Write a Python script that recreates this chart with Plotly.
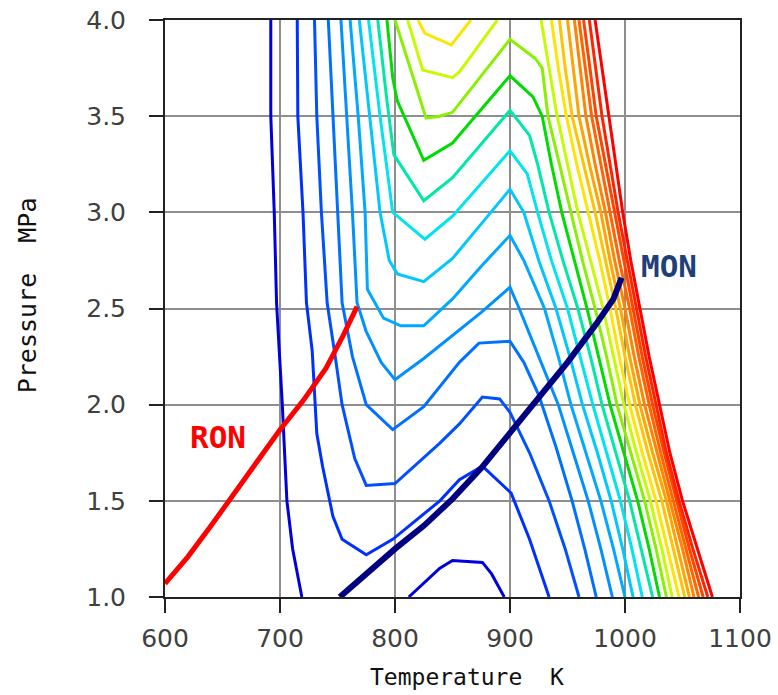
import plotly.graph_objects as go

# ---------------- data ----------------
x_ticks = [600, 700, 800, 900, 1000, 1100]
y_ticks = [1.0, 1.5, 2.0, 2.5, 3.0, 3.5, 4.0]

# shared pressure levels used for the right-hand (high temperature) branches
P_std = [4.0, 3.75, 3.5, 3.25, 3.0, 2.75, 2.5, 2.25, 2.0, 1.75, 1.5, 1.25, 1.0]

c01_T = [692, 692, 695, 697, 702, 706, 711, 719, None, 812, 839, 850, 876, 884, 895]
c01_P = [4.0, 3.5, 3.0, 2.53, 2.0, 1.5, 1.25, 1.0, None, 1.0, 1.15, 1.19, 1.18, 1.12, 1.0]

c02_T = [715, 715.5, 720, 723, 728, 732, 737, 746, 754, 775, 798, 839, 856, 876, 901, 917, 934]
c02_P = [4.0, 3.5, 3.0, 2.53, 2.28, 1.85, 1.68, 1.42, 1.30, 1.22, 1.30, 1.50, 1.61, 1.68, 1.54, 1.30, 1.0]

c03_T = [730, 732, 736, 741, 748, 754, 765, 775, 800, 839, 856, 876, 891, 900, 917, 934, 948, 960]
c03_P = [4.0, 3.5, 3.0, 2.53, 2.25, 2.0, 1.72, 1.58, 1.59, 1.80, 1.90, 2.04, 2.03, 1.96, 1.75, 1.5, 1.25, 1.0]

c04_T = [742, 746, 750, 754, 763, 775, 798, 825, 856, 873, 900, 912, 925, 940, 954, 965, 975]
c04_P = [4.0, 3.5, 3.0, 2.53, 2.25, 2.0, 1.87, 1.99, 2.22, 2.32, 2.33, 2.22, 2.05, 1.78, 1.5, 1.25, 1.0]

c05_T = [753, 758, 763, 767, 775, 788, 800, 825, 850, 875, 900, 908, 925, 942, 955, 968, 979, 989]
c05_P = [4.0, 3.5, 3.0, 2.53, 2.38, 2.22, 2.13, 2.24, 2.36, 2.48, 2.61, 2.5, 2.25, 2.0, 1.75, 1.5, 1.25, 1.0]

c06_T = [761, 768, 774, 776, 790, 805, 825, 850, 875, 900, 912, 930, 942, 953, 966, 979, 990, 1000]
c06_P = [4.0, 3.5, 3.0, 2.6, 2.45, 2.41, 2.41, 2.55, 2.72, 2.88, 2.75, 2.5, 2.25, 2.0, 1.75, 1.5, 1.25, 1.0]

c07_T = [769, 778, 787, 795, 802, 825, 850, 875, 900, 912, 925, 940, 952, 963, 976, 988, 998, 1007]
c07_P = [4.0, 3.5, 3.0, 2.75, 2.68, 2.64, 2.76, 2.94, 3.12, 3.0, 2.75, 2.5, 2.25, 2.0, 1.75, 1.5, 1.25, 1.0]

c08_T = [777, 787, 798, 826, 850, 900, 915, 924, 936, 950, 961, 972, 984, 996, 1006, 1015]
c08_P = [4.0, 3.5, 3.0, 2.86, 2.98, 3.32, 3.2, 3.0, 2.75, 2.5, 2.25, 2.0, 1.75, 1.5, 1.25, 1.0]

c09_T = [785, 793, 799, 825, 850, 900, 917, 924, 934, 946, 959, 970, 980, 992, 1004, 1014, 1024]
c09_P = [4.0, 3.58, 3.3, 3.06, 3.18, 3.53, 3.40, 3.25, 3.0, 2.75, 2.5, 2.25, 2.0, 1.75, 1.5, 1.25, 1.0]

c10_T = [793, 798, 802, 825, 850, 900, 920, 928, 936, 945, 956, 967, 977, 987, 999, 1011, 1021, 1030]
c10_P = [4.0, 3.70, 3.58, 3.27, 3.36, 3.71, 3.60, 3.5, 3.25, 3.0, 2.75, 2.5, 2.25, 2.0, 1.75, 1.5, 1.25, 1.0]

c11_T = [800, 827, 839, 850, 900, 922, 928, 933, 943, 953, 963, 974, 984, 993, 1005, 1017, 1027, 1036]
c11_P = [4.0, 3.49, 3.50, 3.52, 3.90, 3.80, 3.75, 3.5, 3.25, 3.0, 2.75, 2.5, 2.25, 2.0, 1.75, 1.5, 1.25, 1.0]

c12_T = [811, 824, 850, 856, 889, None, 927, 934, 941, 950, 959, 970, 981, 990, 999, 1010, 1022, 1032, 1041]
c12_P = [4.0, 3.74, 3.70, 3.73, 4.0, None] + P_std

c13_T = [820, 826, 849, 866, None, 936, 942, 949, 958, 968, 978, 987, 995, 1004, 1015, 1027, 1037, 1047]
c13_P = [4.0, 3.93, 3.87, 4.0, None] + P_std

c14_T = [943, 948, 954, 964, 974, 983, 992, 1000, 1009, 1020, 1032, 1042, 1052]
c15_T = [950, 955, 960, 969, 979, 987, 996, 1004, 1013, 1024, 1036, 1046, 1056]
c16_T = [956, 961, 966, 974, 983, 991, 1000, 1008, 1017, 1028, 1039, 1050, 1060]
c17_T = [960, 965.5, 971, 979, 987, 995, 1004, 1012, 1021, 1031, 1042, 1053, 1064]
c18_T = [964, 969.5, 975, 983, 991, 999, 1007, 1015, 1024, 1034, 1045, 1056, 1068]
c19_T = [969, 974.5, 980, 987, 994, 1002, 1010, 1018, 1027, 1036, 1047, 1059, 1072]
c20_T = [974, 980, 986, 992, 998, 1005, 1013, 1021, 1030, 1039, 1050, 1063, 1076]

contour_colors = ["#0000DD", "#0030FF", "#0050FF", "#0070FF", "#0090FF",
                  "#00A8FF", "#00C8FF", "#00E4F0", "#00E8A8", "#00DC00",
                  "#88F000", "#C8FA00", "#FFE400", "#FFC400", "#FFA400",
                  "#FF8400", "#FF6400", "#FF4400", "#FF2400", "#FF0000"]

ron_T = [600, 620, 640, 660, 680, 700, 720, 740, 755, 767]
ron_P = [1.07, 1.21, 1.37, 1.54, 1.70, 1.87, 2.02, 2.19, 2.36, 2.51]

mon_T = [752, 775, 800, 825, 850, 875, 900, 925, 950, 975, 990, 997]
mon_P = [1.0, 1.12, 1.25, 1.37, 1.51, 1.67, 1.85, 2.03, 2.22, 2.42, 2.55, 2.66]

# ---------------- figure ----------------
contours = [
    (c01_T, c01_P), (c02_T, c02_P), (c03_T, c03_P), (c04_T, c04_P),
    (c05_T, c05_P), (c06_T, c06_P), (c07_T, c07_P), (c08_T, c08_P),
    (c09_T, c09_P), (c10_T, c10_P), (c11_T, c11_P), (c12_T, c12_P),
    (c13_T, c13_P), (c14_T, P_std), (c15_T, P_std), (c16_T, P_std),
    (c17_T, P_std), (c18_T, P_std), (c19_T, P_std), (c20_T, P_std),
]

fig = go.Figure()
for (tx, py), col in zip(contours, contour_colors):
    fig.add_trace(go.Scatter(x=tx, y=py, mode="lines", connectgaps=False,
                             line=dict(color=col, width=3), hoverinfo="skip"))

fig.add_trace(go.Scatter(x=ron_T, y=ron_P, mode="lines",
                         line=dict(color="#FF0000", width=5), hoverinfo="skip"))
fig.add_trace(go.Scatter(x=mon_T, y=mon_P, mode="lines",
                         line=dict(color="#000080", width=6), hoverinfo="skip"))

tick_font = dict(family="DejaVu Sans", size=25, color="#404040")
mono = "DejaVu Sans Mono"

axis_common = dict(showgrid=True, gridcolor="#8E8E8E", gridwidth=1.5,
                   zeroline=False, showline=True, linecolor="#222222", linewidth=2,
                   mirror=True, ticks="outside", ticklen=14, tickwidth=1.5,
                   tickcolor="#222222", tickfont=tick_font, automargin=False)

fig.update_layout(
    width=778, height=695,
    margin=dict(l=165, r=38, t=20, b=98, autoexpand=False),
    plot_bgcolor="white", paper_bgcolor="white",
    showlegend=False,
    xaxis=dict(range=[600, 1100], tickvals=x_ticks, ticklabelstandoff=4, **axis_common),
    yaxis=dict(range=[1.0, 4.0], tickvals=y_ticks, tickformat=".1f",
               ticklabelstandoff=18, **axis_common),
    annotations=[
        dict(text="Temperature\u00a0\u00a0K", xref="paper", yref="paper",
             x=0.525, y=-0.139, xanchor="center", yanchor="middle",
             showarrow=False, font=dict(family=mono, size=23, color="#111111")),
        dict(text="Pressure\u00a0\u00a0MPa", xref="paper", yref="paper",
             x=-0.24, y=0.523, xanchor="center", yanchor="middle", textangle=-90,
             showarrow=False, font=dict(family=mono, size=25, color="#111111")),
        dict(text="<b>RON</b>", x=646, y=1.83, xref="x", yref="y",
             showarrow=False, font=dict(family=mono, size=31, color="#FF0000")),
        dict(text="<b>MON</b>", x=1038, y=2.72, xref="x", yref="y",
             showarrow=False, font=dict(family=mono, size=31, color="#1F3F7A")),
    ],
)

fig.write_html("out.html")
